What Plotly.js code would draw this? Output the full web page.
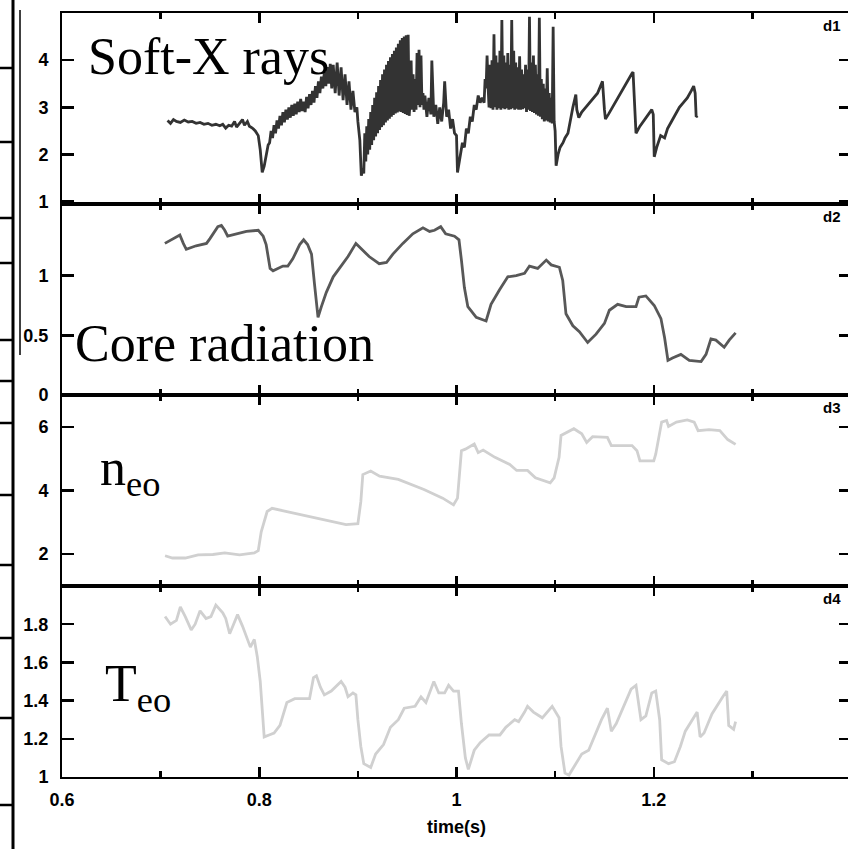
<!DOCTYPE html>
<html>
<head>
<meta charset="utf-8">
<script src="https://cdn.plot.ly/plotly-3.0.1.min.js"></script>
<style>
html, body { margin: 0; padding: 0; overflow: hidden; background: #fff; }
#chart { width: 860px; height: 849px; }
</style>
</head>
<body>
<div id="chart"></div>
<script>
// ---------- Data ----------
// Panel d1: Soft-X rays
const sxrTime = [0.707,0.710,0.713,0.716,0.720,0.724,0.728,0.732,0.736,0.740,0.744,0.748,0.752,0.756,0.760,0.763,0.766,0.769,0.772,0.775,0.777,0.780,0.783,0.785,0.788,0.790,0.793,0.796,0.799,0.801,0.803,0.805,0.807,0.809,
 0.8105,0.812,0.8135,0.815,0.8165,0.818,0.8195,0.821,0.8225,0.824,0.8255,0.827,0.8285,0.830,0.8315,0.833,0.8345,0.836,0.8375,0.839,0.8405,0.842,0.8435,0.845,0.8465,0.848,0.8495,0.851,0.8525,0.854,0.8555,0.857,0.8585,0.860,0.8615,0.863,0.8645,0.866,0.8675,0.869,0.8705,0.872,0.8735,0.875,
 0.877,0.879,0.881,0.883,0.885,0.887,0.889,0.891,0.893,0.895,0.897,0.899,0.900,0.902,0.9035,0.905,
 0.906,0.907,0.908,0.909,0.910,0.911,0.912,0.913,0.914,0.915,0.916,0.917,0.918,0.919,0.920,0.921,0.922,0.923,0.924,0.925,0.926,0.927,0.928,0.929,0.930,0.931,0.932,0.933,0.934,0.935,0.936,0.937,0.938,0.939,0.940,0.941,0.942,0.943,0.944,0.945,0.946,0.947,0.948,0.949,0.950,0.951,0.952,
 0.953,0.954,0.955,0.956,0.957,0.958,0.959,0.960,0.961,0.962,0.963,0.964,0.965,0.966,0.967,0.968,0.970,0.972,0.974,0.975,0.977,0.979,0.981,0.983,0.985,0.987,0.988,0.990,0.992,0.994,0.996,0.998,1.000,1.001,1.003,
 1.004,1.006,1.008,1.010,1.012,1.014,1.016,1.018,1.020,1.022,1.024,1.026,1.028,1.029,1.030,1.031,1.032,
 1.033,1.034,1.035,1.036,1.037,1.038,1.039,1.040,1.041,1.042,1.043,1.044,1.045,1.046,1.047,1.048,1.049,1.050,1.051,1.052,1.053,1.054,1.055,1.056,1.057,1.058,1.059,1.060,1.061,1.062,1.063,1.064,1.065,1.066,1.067,1.068,1.069,1.070,1.071,1.072,1.073,1.074,1.075,1.076,1.077,1.078,1.079,1.080,1.081,1.082,1.083,1.084,1.085,1.086,1.087,1.088,1.089,1.090,1.091,1.092,1.093,1.094,1.095,1.096,1.097,1.098,1.099,1.100,1.101,
 1.103,1.105,1.108,1.110,1.113,1.115,1.118,1.121,1.122,1.124,1.127,1.131,1.135,1.139,1.143,1.146,1.148,1.150,1.151,1.154,1.158,1.162,1.166,1.170,1.174,1.178,1.179,1.181,1.182,1.186,1.190,1.194,1.198,1.1995,1.2005,1.203,1.207,1.211,1.214,1.218,1.222,1.226,1.230,1.234,1.238,1.2405,1.242,1.243,1.2445];
const sxrValue = [2.72,2.66,2.74,2.70,2.68,2.73,2.69,2.70,2.66,2.68,2.64,2.66,2.62,2.64,2.61,2.64,2.56,2.62,2.60,2.70,2.58,2.66,2.74,2.62,2.70,2.60,2.56,2.50,2.40,2.10,1.62,1.75,1.95,2.20,
 2.25,2.50,2.35,2.62,2.45,2.72,2.55,2.82,2.62,2.90,2.68,2.95,2.74,3.00,2.78,3.05,2.82,3.08,2.85,3.12,2.90,3.18,2.92,3.12,2.90,3.22,2.98,3.28,3.05,3.35,3.10,3.45,3.20,3.55,3.30,3.65,3.40,3.75,3.45,3.85,3.50,3.92,3.40,3.90,
 3.30,3.95,3.25,3.85,3.15,3.70,3.05,3.55,2.95,3.35,2.90,3.00,2.70,2.30,1.55,1.70,
 1.60,2.45,1.85,2.60,2.00,2.75,2.10,2.90,2.20,3.05,2.30,3.20,2.38,3.32,2.45,3.45,2.52,3.58,2.58,3.70,2.62,3.80,2.68,3.90,2.72,3.98,2.76,4.06,2.80,4.13,2.84,4.20,2.87,4.27,2.89,4.35,2.91,4.42,2.90,4.47,2.88,4.50,2.86,4.53,2.84,4.54,2.82,
 3.10,3.99,2.95,3.70,2.90,3.60,2.95,4.15,3.05,4.22,3.00,4.10,3.05,3.30,2.95,3.25,2.80,3.20,2.85,3.99,2.80,3.05,2.65,3.00,2.70,3.10,3.55,2.80,2.95,2.55,2.75,2.45,2.40,1.62,1.85,
 2.00,2.25,2.15,2.55,2.45,2.80,2.70,3.05,2.95,3.25,3.10,3.20,3.10,3.60,3.40,4.10,3.45,
 3.00,3.90,2.98,4.00,2.95,4.55,3.00,4.10,2.95,3.95,2.98,4.20,2.95,4.85,2.98,4.10,2.96,3.95,2.98,4.15,2.95,3.90,2.96,4.85,2.98,4.20,2.95,3.95,2.97,3.85,2.95,4.08,2.95,3.80,2.96,3.70,2.98,3.90,2.90,3.80,2.95,4.92,2.92,3.95,2.90,4.10,2.88,3.90,2.85,3.70,2.82,4.90,2.80,3.60,2.75,3.50,2.70,3.40,2.72,3.83,2.70,3.30,2.68,3.20,2.66,4.71,2.70,2.50,1.76,
 2.00,2.15,2.25,2.35,2.45,2.70,3.00,3.27,2.95,2.78,2.90,3.00,3.10,3.20,3.30,3.45,3.55,2.95,2.75,2.85,3.00,3.15,3.30,3.45,3.60,3.72,3.75,2.60,2.45,2.60,2.72,2.85,2.95,2.85,1.95,2.15,2.40,2.35,2.55,2.70,2.85,3.00,3.10,3.20,3.35,3.45,3.30,2.80,2.82];

// Panel d2: Core radiation
const radTime = [0.7043,0.711,0.7195,0.723,0.726,0.736,0.7465,0.750,0.755,0.758,0.7616,0.765,0.768,0.777,0.787,0.799,0.804,0.807,0.811,0.814,0.824,0.829,0.834,0.841,0.845,0.849,0.853,0.856,0.8596,0.863,0.868,0.875,0.8815,0.890,0.898,0.905,0.9114,0.9216,0.929,0.9355,0.9456,0.9557,0.966,0.9727,0.9777,0.984,0.989,0.998,1.0025,1.005,1.008,1.0115,1.020,1.030,1.035,1.0435,1.052,1.0605,1.069,1.074,1.0823,1.091,1.096,1.1043,1.1077,1.111,1.118,1.1246,1.133,1.1415,1.15,1.155,1.1634,1.172,1.182,1.185,1.192,1.2005,1.2073,1.211,1.2144,1.219,1.2275,1.236,1.248,1.253,1.258,1.263,1.2714,1.2765,1.283];
const radValue = [1.27,1.30,1.34,1.27,1.22,1.25,1.27,1.31,1.37,1.41,1.42,1.38,1.33,1.35,1.37,1.38,1.33,1.26,1.06,1.04,1.08,1.08,1.14,1.26,1.30,1.26,1.18,0.93,0.65,0.74,0.86,0.99,1.06,1.16,1.27,1.21,1.16,1.10,1.11,1.18,1.27,1.35,1.40,1.37,1.38,1.41,1.35,1.33,1.30,1.13,0.90,0.74,0.65,0.62,0.76,0.88,0.99,1.00,1.02,1.08,1.06,1.13,1.09,1.07,0.96,0.68,0.58,0.53,0.44,0.51,0.60,0.71,0.76,0.74,0.74,0.82,0.83,0.75,0.64,0.48,0.29,0.31,0.34,0.29,0.28,0.34,0.47,0.46,0.40,0.46,0.52];

// Panel d3: n_eo
const neTime = [0.7045,0.712,0.725,0.738,0.753,0.765,0.780,0.795,0.799,0.802,0.808,0.813,0.828,0.851,0.873,0.888,0.900,0.903,0.905,0.913,0.922,0.941,0.967,0.986,0.997,1.001,1.005,1.009,1.018,1.022,1.027,1.039,1.054,1.061,1.072,1.080,1.095,1.099,1.104,1.106,1.119,1.127,1.132,1.138,1.153,1.157,1.178,1.183,1.186,1.200,1.202,1.208,1.213,1.215,1.223,1.234,1.241,1.245,1.256,1.267,1.275,1.283];
const neValue = [1.95,1.88,1.88,1.98,1.99,2.04,1.98,2.04,2.11,2.70,3.34,3.44,3.34,3.18,3.02,2.93,2.96,3.65,4.50,4.61,4.45,4.35,4.03,3.76,3.55,3.76,5.25,5.30,5.46,5.19,5.27,5.04,4.82,4.63,4.63,4.40,4.24,4.40,5.04,5.73,5.94,5.78,5.51,5.69,5.67,5.41,5.41,5.25,4.93,4.93,5.14,6.15,6.20,6.01,6.15,6.22,6.15,5.88,5.91,5.88,5.60,5.45];

// Panel d4: T_eo
const teTime = [0.7045,0.710,0.716,0.720,0.725,0.731,0.735,0.740,0.746,0.751,0.756,0.763,0.766,0.770,0.774,0.778,0.783,0.788,0.791,0.795,0.798,0.801,0.805,0.810,0.815,0.821,0.828,0.836,0.851,0.855,0.858,0.862,0.866,0.873,0.883,0.887,0.890,0.895,0.898,0.900,0.903,0.906,0.913,0.918,0.926,0.933,0.941,0.947,0.958,0.964,0.969,0.977,0.982,0.988,0.992,0.997,1.002,1.005,1.009,1.012,1.018,1.024,1.033,1.044,1.050,1.059,1.063,1.069,1.072,1.078,1.087,1.097,1.104,1.106,1.110,1.114,1.119,1.127,1.134,1.140,1.147,1.153,1.157,1.162,1.170,1.177,1.182,1.187,1.192,1.198,1.202,1.206,1.208,1.215,1.221,1.227,1.232,1.238,1.244,1.247,1.251,1.259,1.267,1.270,1.274,1.276,1.281,1.283];
const teValue = [1.84,1.80,1.82,1.89,1.84,1.77,1.80,1.87,1.83,1.84,1.90,1.86,1.83,1.75,1.80,1.85,1.79,1.72,1.68,1.72,1.63,1.50,1.21,1.22,1.23,1.27,1.39,1.41,1.41,1.52,1.53,1.47,1.43,1.45,1.50,1.47,1.42,1.44,1.43,1.30,1.16,1.07,1.05,1.12,1.17,1.26,1.30,1.36,1.37,1.42,1.39,1.50,1.44,1.44,1.48,1.45,1.45,1.28,1.10,1.04,1.14,1.18,1.22,1.22,1.26,1.30,1.29,1.34,1.37,1.34,1.31,1.37,1.31,1.16,1.02,1.01,1.05,1.12,1.14,1.21,1.30,1.36,1.24,1.28,1.38,1.46,1.48,1.30,1.32,1.44,1.45,1.30,1.09,1.07,1.08,1.16,1.24,1.29,1.34,1.21,1.23,1.33,1.40,1.42,1.45,1.27,1.25,1.29];

// Axis tick values
const xRange = [0.6, 1.4];
const y1Ticks = [1, 2, 3, 4];
const y2Ticks = [0, 0.5, 1];
const y3Ticks = [2, 4, 6];
const y4Ticks = [1, 1.2, 1.4, 1.6, 1.8];
const panelTags = ['d1', 'd2', 'd3', 'd4'];

// ---------- Figure ----------
const W = 860, H = 849;
const M = {l: 62, r: 9, t: 13, b: 72};
const pw = W - M.l - M.r, ph = H - M.t - M.b;
const px2x = p => (p - M.l) / pw;
const py2y = p => (H - M.b - p) / ph;

const traces = [
  {x: sxrTime, y: sxrValue, xaxis: 'x', yaxis: 'y', mode: 'lines', line: {color: '#333333', width: 2.8}},
  {x: radTime, y: radValue, xaxis: 'x2', yaxis: 'y2', mode: 'lines', line: {color: '#585858', width: 2.8}},
  {x: neTime, y: neValue, xaxis: 'x3', yaxis: 'y3', mode: 'lines', line: {color: '#d0d0d0', width: 2.8}},
  {x: teTime, y: teValue, xaxis: 'x4', yaxis: 'y4', mode: 'lines', line: {color: '#d0d0d0', width: 2.8}}
];

const tickFont = {family: 'Liberation Sans, Arial, sans-serif', size: 18, color: '#000', weight: 'bold'};

function xAxis(anchor, showLabels) {
  return {
    anchor: anchor, range: xRange, tick0: 0.6, dtick: 0.2,
    ticks: 'inside', ticklen: 10, tickwidth: 2.5, tickcolor: '#000',
    minor: {ticks: 'inside', tick0: 0.6, dtick: 0.1, ticklen: 6, tickwidth: 2.5, tickcolor: '#000', showgrid: false},
    showline: true, linewidth: 2, linecolor: '#000', mirror: 'ticks',
    showgrid: false, zeroline: false, matches: anchor === 'y' ? undefined : 'x',
    showticklabels: showLabels, tickfont: tickFont, ticklabelstandoff: 5
  };
}
function yAxis(anchor, domain, range, vals) {
  return {
    anchor: anchor, domain: domain, range: range, tickvals: vals,
    ticks: 'inside', ticklen: 12, tickwidth: 2.5, tickcolor: '#000',
    showline: true, linewidth: 2, linecolor: '#000', mirror: 'ticks',
    showgrid: false, zeroline: false, tickfont: tickFont, ticklabelstandoff: 8
  };
}

const serif = {family: 'Liberation Serif, Times New Roman, serif', size: 52, color: '#000'};
const annotations = [
  {xref: 'x domain', yref: 'y domain', x: px2x(86) , y: 0.77, xanchor: 'left', yanchor: 'middle', text: 'Soft-X rays', showarrow: false, font: serif},
  {xref: 'x2 domain', yref: 'y2 domain', x: px2x(73), y: 0.272, xanchor: 'left', yanchor: 'middle', text: 'Core radiation', showarrow: false, font: serif},
  {xref: 'x3 domain', yref: 'y3 domain', x: px2x(98), y: 0.60, xanchor: 'left', yanchor: 'middle', text: 'n<sub>eo</sub>', showarrow: false, font: serif},
  {xref: 'x4 domain', yref: 'y4 domain', x: px2x(103), y: 0.47, xanchor: 'left', yanchor: 'middle', text: 'T<sub>eo</sub>', showarrow: false, font: serif}
];
['y', 'y2', 'y3', 'y4'].forEach((ya, i) => {
  annotations.push({xref: 'paper', yref: ya + ' domain', x: px2x(832), y: 1, yshift: -2, xanchor: 'center', yanchor: 'top',
    text: '<b>' + panelTags[i] + '</b>', showarrow: false, font: {family: 'Liberation Sans, Arial, sans-serif', size: 15, color: '#000'}});
});

// Remnants of the neighbouring figure visible at the left edge
const shapes = [
  {type: 'line', xref: 'paper', yref: 'paper', x0: px2x(13), x1: px2x(13), y0: py2y(0), y1: py2y(849), line: {color: '#000', width: 3}},
  {type: 'line', xref: 'paper', yref: 'paper', x0: px2x(20), x1: px2x(20), y0: py2y(10), y1: py2y(355), line: {color: '#000', width: 1.5}}
];
[68, 142, 218, 263, 340, 381, 423, 495, 565, 638, 718, 805].forEach(p => {
  shapes.push({type: 'line', xref: 'paper', yref: 'paper', x0: px2x(0), x1: px2x(13), y0: py2y(p), y1: py2y(p), line: {color: '#000', width: 2.5}});
});

const layout = {
  width: W, height: H, margin: M, showlegend: false,
  paper_bgcolor: '#fff', plot_bgcolor: '#fff',
  xaxis: xAxis('y', false),
  xaxis2: xAxis('y2', false),
  xaxis3: xAxis('y3', false),
  xaxis4: Object.assign(xAxis('y4', true), {title: {text: '<b>time(s)</b>', font: {family: 'Liberation Sans, Arial, sans-serif', size: 18, color: '#000'}, standoff: 12}}),
  yaxis: yAxis('x', [0.75, 1], [0.95, 5.0], y1Ticks),
  yaxis2: yAxis('x2', [0.5, 0.75], [0, 1.6], y2Ticks),
  yaxis3: yAxis('x3', [0.25, 0.5], [1, 7], y3Ticks),
  yaxis4: yAxis('x4', [0, 0.25], [1, 2], y4Ticks),
  annotations: annotations,
  shapes: shapes
};

Plotly.newPlot('chart', traces, layout, {staticPlot: true, displayModeBar: false});
</script>
</body>
</html>
